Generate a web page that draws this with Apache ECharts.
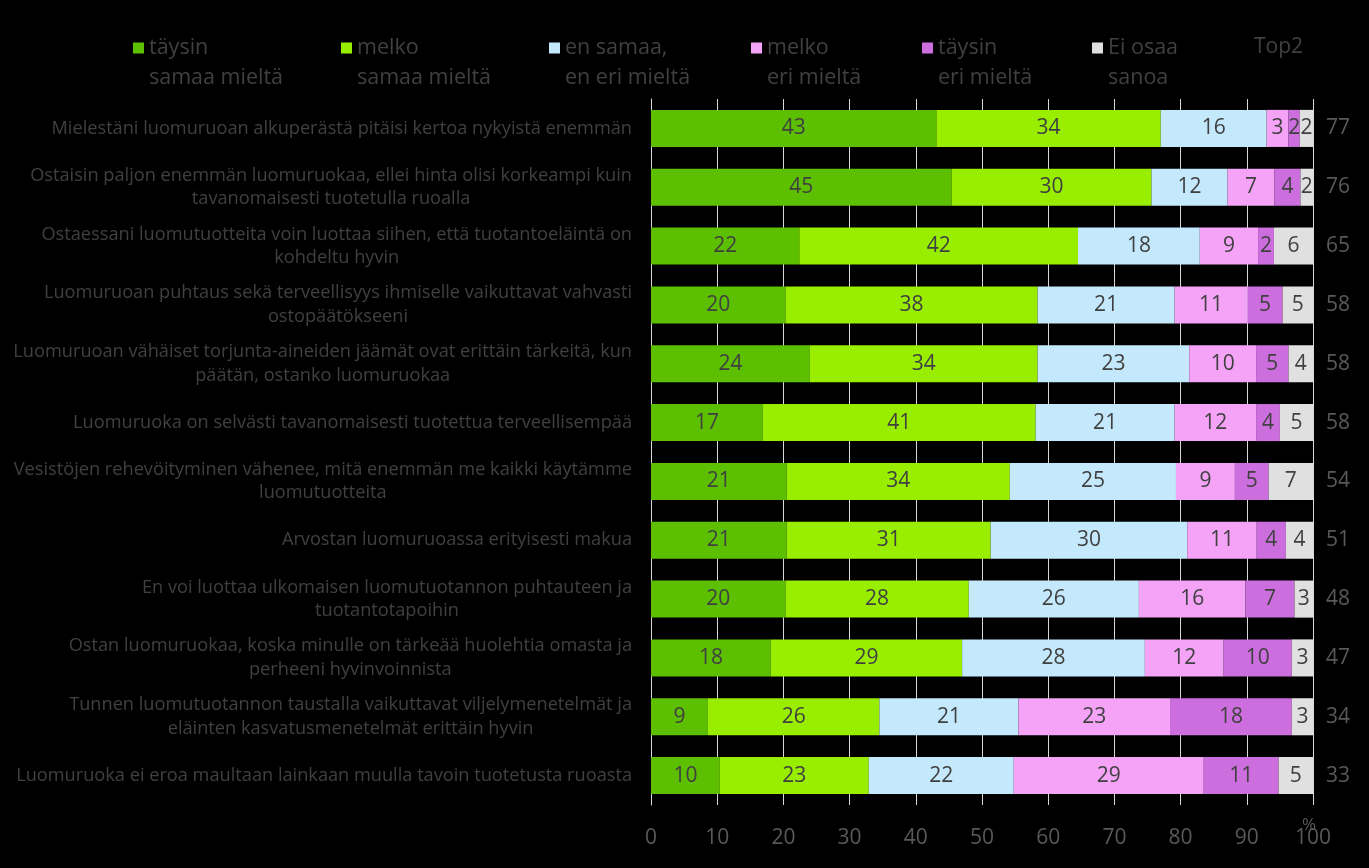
<!DOCTYPE html>
<html><head><meta charset="utf-8">
<script src="https://cdn.jsdelivr.net/npm/echarts@6/dist/echarts.min.js"></script>
<style>html,body{margin:0;padding:0;background:#000;}#c{width:1369px;height:868px;}</style>
</head><body><div id="c"></div>
<script>
const categories = [
  "Mielestäni luomuruoan alkuperästä pitäisi kertoa nykyistä enemmän",
  "Ostaisin paljon enemmän luomuruokaa, ellei hinta olisi korkeampi kuin\ntavanomaisesti tuotetulla ruoalla",
  "Ostaessani luomutuotteita voin luottaa siihen, että tuotantoeläintä on\nkohdeltu hyvin",
  "Luomuruoan puhtaus sekä terveellisyys ihmiselle vaikuttavat vahvasti\nostopäätökseeni",
  "Luomuruoan vähäiset torjunta-aineiden jäämät ovat erittäin tärkeitä, kun\npäätän, ostanko luomuruokaa",
  "Luomuruoka on selvästi tavanomaisesti tuotettua terveellisempää",
  "Vesistöjen rehevöityminen vähenee, mitä enemmän me kaikki käytämme\nluomutuotteita",
  "Arvostan luomuruoassa erityisesti makua",
  "En voi luottaa ulkomaisen luomutuotannon puhtauteen ja\ntuotantotapoihin",
  "Ostan luomuruokaa, koska minulle on tärkeää huolehtia omasta ja\nperheeni hyvinvoinnista",
  "Tunnen luomutuotannon taustalla vaikuttavat viljelymenetelmät ja\neläinten kasvatusmenetelmät erittäin hyvin",
  "Luomuruoka ei eroa maultaan lainkaan muulla tavoin tuotetusta ruoasta"
];
const seriesNames = ["täysin\nsamaa mieltä", "melko\nsamaa mieltä", "en samaa,\nen eri mieltä", "melko\neri mieltä", "täysin\neri mieltä", "Ei osaa\nsanoa"];
const taysinSamaa = [43.1, 45.4, 22.4, 20.3, 24.0, 16.9, 20.5, 20.5, 20.3, 18.1, 8.6, 10.4];
const melkoSamaa  = [33.9, 30.2, 42.1, 38.1, 34.4, 41.2, 33.7, 30.8, 27.7, 28.9, 25.9, 22.5];
const enSamaaEnEri= [16.0, 11.5, 18.4, 20.7, 22.9, 21.0, 25.1, 29.7, 25.7, 27.6, 21.0, 21.9];
const melkoEri    = [3.3, 7.1, 8.8, 11.0, 10.1, 12.3, 8.9, 10.5, 16.1, 11.9, 22.9, 28.7];
const taysinEri   = [1.7, 3.9, 2.4, 5.3, 4.9, 3.6, 5.1, 4.4, 7.4, 10.3, 18.4, 11.3];
const eiOsaa      = [2.0, 1.9, 5.9, 4.6, 3.7, 5.0, 6.7, 4.1, 2.8, 3.2, 3.2, 5.2];
const top2 = [77, 76, 65, 58, 58, 58, 54, 51, 48, 47, 34, 33];
const xTicks = [0, 10, 20, 30, 40, 50, 60, 70, 80, 90, 100];

const colors = ["#5CBF00", "#99EE00", "#C5E9FC", "#F4A3F7", "#CD6EDE", "#E0E0E0"];
const values = [taysinSamaa, melkoSamaa, enSamaaEnEri, melkoEri, taysinEri, eiOsaa];
const FONT = "Open Sans";
const legendLefts = [133, 341, 549, 751, 922, 1092];
const iconPath = "path://M0 0h11v11h-11z M0 40.9h0.01v0.01h-0.01z";

const chart = echarts.init(document.getElementById('c'), null, {renderer: 'canvas'});
chart.setOption({
  backgroundColor: '#000',
  textStyle: {fontFamily: FONT},
  title: {text: 'Top2', left: 1254, top: 37, padding: 0, textStyle: {color: '#404040', fontSize: 21, fontWeight: 'normal', fontFamily: FONT}},
  legend: seriesNames.map((n, i) => ({
    data: [n], left: legendLefts[i], top: 33, padding: 0, icon: iconPath, itemWidth: 11, itemHeight: 41,
    selectedMode: false,
    textStyle: {color: '#404040', fontSize: 21.5, lineHeight: 30, fontFamily: FONT}
  })),
  grid: {left: 651, right: 56, top: 99, bottom: 63},
  xAxis: {
    type: 'value', min: 0, max: 100, interval: 10,
    name: '%', nameLocation: 'end', nameGap: -11, nameMoveOverlap: false,
    nameTextStyle: {color: '#595959', fontSize: 17, verticalAlign: 'top', padding: [12, 0, 0, 0], fontFamily: FONT},
    axisLine: {show: false}, axisTick: {show: false},
    splitLine: {show: true, lineStyle: {color: '#D9D9D9', width: 1}},
    axisLabel: {color: '#595959', fontSize: 21, margin: 23, fontFamily: FONT,
      formatter: v => xTicks.includes(v) ? String(v) : ''}
  },
  yAxis: [{
    type: 'category', data: categories, inverse: true,
    axisLine: {show: true, lineStyle: {color: '#D9D9D9'}}, axisTick: {show: false},
    axisLabel: {color: '#404040', fontSize: 18.2, lineHeight: 23.5, margin: 19, align: 'right', fontFamily: FONT,
      formatter: v => v.split('\n').map(s => '{c|' + s + '}').join('\n'),
      rich: {c: {align: 'center', color: '#404040', fontSize: 18.2, lineHeight: 23.5, fontFamily: FONT}}}
  }, {
    type: 'category', data: top2.map(String), inverse: true, position: 'right',
    axisLine: {show: false}, axisTick: {show: false},
    axisLabel: {color: '#595959', fontSize: 21, margin: 13, fontFamily: FONT}
  }],
  series: values.map((arr, i) => ({
    name: seriesNames[i], type: 'bar', stack: 'total', yAxisIndex: 0,
    barCategoryGap: '37%', data: arr,
    itemStyle: {color: colors[i]},
    label: {show: true, position: 'inside', color: '#404040', fontSize: 21, fontFamily: FONT,
      formatter: p => String(Math.round(p.value))}
  }))
});
</script></body></html>
